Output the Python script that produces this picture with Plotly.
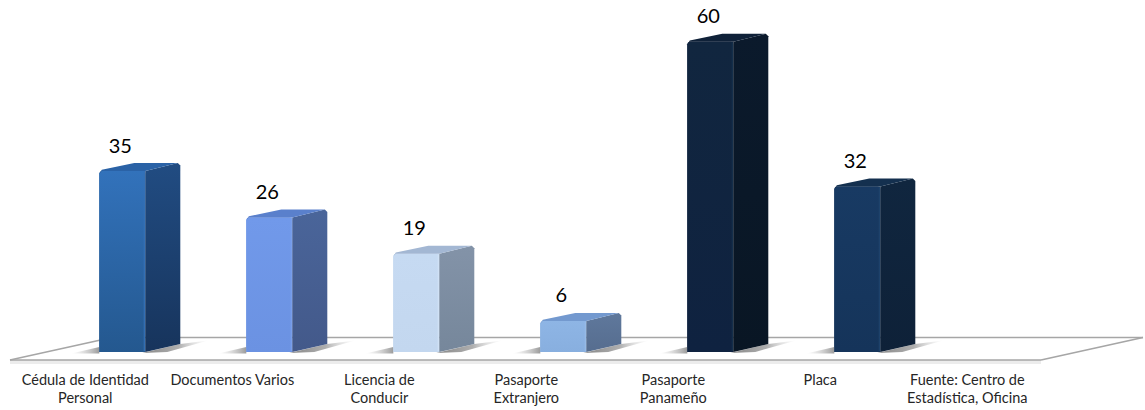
import plotly.graph_objects as go

# --- data -------------------------------------------------------------
categories = [
    "Cédula de Identidad<br>Personal",
    "Documentos Varios",
    "Licencia de<br>Conducir",
    "Pasaporte<br>Extranjero",
    "Pasaporte<br>Panameño",
    "Placa",
    "Fuente: Centro de<br>Estadística, Oficina",
]
values = [35, 26, 19, 6, 60, 32, None]
front_top = ["#3272bb", "#7199ea", "#c6daf2", "#8eb5e5", "#11263f", "#183a63"]
front_bot = ["#24588f", "#6b92e2", "#c3d7ef", "#88afdf", "#0f2240", "#15345a"]
side_top = ["#214c82", "#4a659a", "#8393a8", "#5f789c", "#0b1a2c", "#10263f"]
side_bot = ["#17345c", "#43598a", "#76879b", "#566d8f", "#091624", "#0e2138"]
top_col = ["#2a62a6", "#5a80cc", "#a3b7d3", "#7399cf", "#0f2138", "#14304f"]
edge_col = ["#3571b6", "#7ba0ea", "#d2e2f5", "#98bbe6", "#16304c", "#1f436c"]

# --- geometry (pixels per category / per unit, depth of the 3-D look) --
W, H = 1145, 410
STEP = 147.0
X0 = 85.3
UNIT = 5.17
BASE = 352.0
BOTTOM = 368.0
OFF0, OFF1 = 14.0, 60.0
DX, DY = 35.0, 8.0
CH = 2.5


def sx(d):
    return d / STEP


def sy(d):
    return d / UNIT


def X(p):
    return (p - X0) / STEP


def Y(p):
    return (BASE - p) / UNIT


fig = go.Figure()

idx = [i for i, v in enumerate(values) if v is not None]
fig.add_trace(go.Bar(
    x=[i + sx((OFF0 + OFF1) / 2) for i in idx],
    y=[values[i] for i in idx],
    width=sx(OFF1 - OFF0),
    marker=dict(color=[front_bot[i] for i in idx], cornerradius=3, line_width=0),
    hoverinfo="skip", showlegend=False,
))


def poly(xs, ys, **kw):
    fig.add_trace(go.Scatter(x=xs, y=ys, mode="lines", fill="toself",
                             line=dict(width=0), hoverinfo="skip",
                             showlegend=False, **kw))


for i in idx:
    v = values[i]
    xl, xr = i + sx(OFF0), i + sx(OFF1)
    dx, dy = sx(DX), sy(DY)
    c, d = sx(CH), sy(CH)
    # floor shadows
    poly([xl, xl - sx(28), xl], [sy(-1.5), sy(-1.5), sy(5)],
         fillgradient=dict(type="horizontal",
                           colorscale=[[0, "rgba(190,190,190,0)"], [1, "rgba(130,130,130,0.8)"]]))
    poly([xr - sx(3), xr + dx, xr + dx + sx(28), xr + sx(22)],
         [sy(-1), dy, dy + sy(3.5), sy(0)],
         fillgradient=dict(type="horizontal",
                           colorscale=[[0, "rgba(120,120,120,0.9)"], [0.55, "rgba(140,140,140,0.7)"],
                                       [1, "rgba(200,200,200,0)"]]))
    # front face gradient
    poly([xl, xl, xl + c, xr, xr, xl], [0, v - d, v, v, 0, 0],
         fillgradient=dict(type="vertical",
                           colorscale=[[0, front_bot[i]], [1, front_top[i]]]))
    # side face
    poly([xr, xr, xr + dx - c, xr + dx, xr + dx, xr],
         [0, v, v + dy, v + dy - d, dy, 0],
         fillgradient=dict(type="vertical",
                           colorscale=[[0, side_bot[i]], [1, side_top[i]]]))
    # top face
    poly([xl, xl + c, xl + dx, xr + dx - c, xr, xl + c, xl],
         [v - d, v + d * 0.5, v + dy, v + dy, v, v, v - d],
         fillcolor=top_col[i])
    # bevel highlight
    fig.add_trace(go.Scatter(x=[xr - sx(1), xr - sx(1)], y=[sy(1), v - d * 0.3], mode="lines",
                             line=dict(color=edge_col[i], width=1.2),
                             hoverinfo="skip", showlegend=False))

fig.add_trace(go.Scatter(
    x=[i + sx((OFF0 + OFF1) / 2) - sx(2) for i in idx],
    y=[values[i] + sy(23.5) for i in idx],
    text=[str(values[i]) for i in idx],
    mode="text", textposition="middle center",
    textfont=dict(family="Lato", size=20, color="#000000"),
    hoverinfo="skip", showlegend=False,
))

# floor plane
shapes = [
    dict(type="line", xref="x", yref="y", layer="below",
         x0=X(10), x1=X(1041), y0=Y(362), y1=Y(362),
         line=dict(color="#ececec", width=4)),
    dict(type="line", xref="x", yref="y", layer="below",
         x0=X(112), x1=X(1143), y0=Y(337.5), y1=Y(337.5),
         line=dict(color="#a6a6a6", width=1.6)),
    dict(type="line", xref="x", yref="y", layer="below",
         x0=X(10), x1=X(1041), y0=Y(360), y1=Y(360),
         line=dict(color="#a6a6a6", width=1.6)),
    dict(type="line", xref="x", yref="y", layer="below",
         x0=X(10), x1=X(112), y0=Y(360), y1=Y(337.5),
         line=dict(color="#a6a6a6", width=1.6)),
    dict(type="line", xref="x", yref="y", layer="below",
         x0=X(1041), x1=X(1143), y0=Y(360), y1=Y(337.5),
         line=dict(color="#a6a6a6", width=1.6)),
]

fig.update_layout(
    width=W, height=H,
    margin=dict(l=0, r=0, t=0, b=H - BOTTOM, pad=0),
    paper_bgcolor="#ffffff", plot_bgcolor="#ffffff",
    showlegend=False, shapes=shapes, barmode="overlay",
    xaxis=dict(range=[X(0), X(W)], tickmode="array",
               tickvals=list(range(len(categories))), ticktext=categories,
               tickfont=dict(family="Lato", size=14.5, color="#262626"),
               ticklabelstandoff=1,
               showgrid=False, zeroline=False, showline=False, ticks="", tickangle=0,
               fixedrange=True),
    yaxis=dict(range=[Y(BOTTOM), Y(0)], visible=False, fixedrange=True),
)

fig.write_html("out.html", config={"displayModeBar": False},
               post_script="document.body.style.margin='0';")
